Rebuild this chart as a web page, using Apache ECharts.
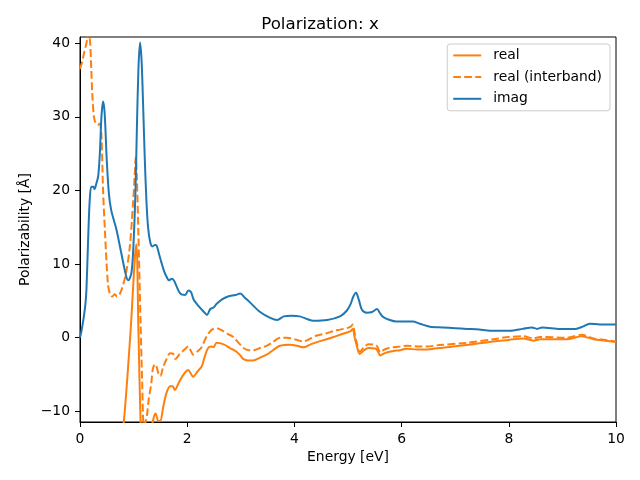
<!DOCTYPE html>
<html>
<head>
<meta charset="utf-8">
<script src="https://cdn.jsdelivr.net/npm/echarts@6/dist/echarts.min.js"></script>
<style>html,body{margin:0;padding:0;background:#fff}#c{width:640px;height:480px}</style>
</head>
<body>
<div id="c"></div>
<script>
const titleText = "Polarization: x";
const xName = "Energy [eV]";
const yName = "Polarizability [Å]";
const seriesNames = ["real", "real (interband)", "imag"];
const xTicks = [0, 2, 4, 6, 8, 10];
const yTicks = [-10, 0, 10, 20, 30, 40];

const realE = [0.3,0.5,0.7,0.82,0.94,1.05,1.09,1.13,1.18,1.25,1.32,1.37,1.41,1.46,1.5,1.55,1.61,1.68,1.73,1.77,1.85,1.95,2.02,2.07,2.11,2.19,2.27,2.33,2.39,2.45,2.49,2.55,2.68,2.8,2.92,2.99,3.05,3.15,3.23,3.36,3.48,3.6,3.73,3.92,4.05,4.17,4.3,4.42,4.6,4.73,4.85,4.98,5.05,5.09,5.12,5.16,5.22,5.3,5.38,5.52,5.56,5.6,5.66,5.72,5.85,5.97,6.09,6.3,6.47,6.7,7.21,7.71,8.0,8.27,8.46,8.58,9.08,9.36,9.58,9.8,10];
const realV = [-90,-36,-18,-11.2,0.5,12.7,1,-11.4,-20,-18,-13,-11,-10.3,-11.3,-11.3,-9.5,-7.6,-6.6,-6.6,-7.1,-6,-4.8,-4.4,-4.9,-5.3,-4.6,-3.9,-2.5,-1.4,-1.2,-1.3,-0.7,-0.9,-1.4,-1.9,-2.4,-2.9,-3.1,-3.1,-2.7,-2.3,-1.7,-1.1,-0.95,-1.1,-1.3,-0.9,-0.6,-0.2,0.1,0.4,0.7,0.9,1.2,0.2,-1.0,-2.2,-1.7,-1.4,-1.5,-1.9,-2.4,-2.2,-2.0,-1.8,-1.7,-1.5,-1.6,-1.6,-1.4,-1.0,-0.5,-0.3,-0.1,-0.4,-0.2,-0.2,0.2,-0.2,-0.4,-0.6];

const interE = [0,0.04,0.08,0.12,0.16,0.19,0.21,0.23,0.26,0.29,0.33,0.37,0.4,0.43,0.47,0.52,0.56,0.6,0.65,0.69,0.73,0.78,0.86,0.93,0.99,1.02,1.04,1.06,1.09,1.13,1.16,1.19,1.22,1.25,1.28,1.33,1.36,1.4,1.43,1.47,1.5,1.55,1.61,1.68,1.74,1.78,1.85,1.95,2.02,2.07,2.11,2.2,2.27,2.33,2.39,2.46,2.55,2.67,2.76,2.86,2.96,3.05,3.15,3.23,3.36,3.48,3.6,3.73,3.86,4.0,4.17,4.3,4.42,4.6,4.73,4.85,4.98,5.05,5.09,5.12,5.16,5.22,5.3,5.38,5.52,5.56,5.6,5.66,5.72,5.85,5.97,6.1,6.34,6.47,6.7,7.21,7.71,8.0,8.27,8.46,8.58,9.08,9.36,9.58,9.8,10];
const interV = [36.5,37.5,38.8,40.0,41.5,40,36.5,33,30,29.2,28.9,29.1,27.5,20.1,13.8,7.4,5.9,5.6,5.9,5.6,5.8,6.6,8.8,12.4,18.3,21.9,24.5,22,13.9,2,-6,-12,-11.5,-10.5,-8.5,-6.2,-4.2,-3.6,-4,-5.0,-5.2,-4.0,-3.0,-2.1,-2.2,-2.9,-2.3,-1.6,-1.2,-1.8,-2.3,-1.8,-1.3,-0.3,0.5,1.1,1.3,0.9,0.5,0.1,-0.7,-1.4,-1.7,-1.7,-1.4,-1.1,-0.6,0.0,0.0,-0.2,-0.5,-0.1,0.3,0.6,0.9,1.1,1.3,1.5,1.8,0.8,-0.6,-1.9,-1.3,-0.9,-1.0,-1.4,-2.0,-1.7,-1.5,-1.3,-1.2,-1.1,-1.2,-1.2,-1.0,-0.7,-0.2,0.1,0.2,-0.1,0.1,0.0,0.4,-0.1,-0.3,-0.5];

const imagE = [0,0.03,0.07,0.1,0.12,0.15,0.18,0.21,0.25,0.27,0.3,0.34,0.37,0.4,0.43,0.46,0.5,0.54,0.58,0.63,0.68,0.77,0.86,0.9,0.96,1.0,1.035,1.06,1.09,1.12,1.15,1.18,1.21,1.24,1.27,1.31,1.35,1.4,1.43,1.47,1.52,1.57,1.62,1.66,1.71,1.75,1.8,1.87,1.96,2.02,2.07,2.12,2.2,2.3,2.37,2.43,2.49,2.55,2.65,2.76,2.9,2.99,3.08,3.17,3.36,3.55,3.68,3.8,3.95,4.1,4.25,4.35,4.61,4.85,4.98,5.05,5.1,5.15,5.2,5.26,5.35,5.45,5.54,5.6,5.66,5.78,5.9,6.03,6.21,6.34,6.53,6.77,7.0,7.22,7.45,7.65,8.02,8.26,8.43,8.53,8.62,8.96,9.24,9.38,9.51,9.7,10];
const imagV = [0,1,2.8,4.5,6.5,13,18.5,20.5,20.5,20.2,20.8,22,25,30,32.1,30.5,24,19.5,17.4,16,14.7,11.5,8.4,7.8,8.8,13,20,28,36.5,40.1,37.5,31,24,18.5,15,13,12.4,12.6,12.5,11.5,10.2,9.0,8.2,7.8,8.0,7.8,7.0,6.0,5.8,6.4,6.2,5.2,4.4,3.6,3.1,3.9,4.1,4.6,5.2,5.6,5.8,6.0,5.4,4.8,3.5,2.7,2.4,2.9,3.0,2.9,2.5,2.3,2.4,2.9,3.7,4.6,5.6,6.1,5.2,3.8,3.4,3.5,3.9,3.3,2.8,2.4,2.2,2.2,2.2,1.9,1.5,1.4,1.3,1.2,1.1,0.95,0.95,1.2,1.4,1.2,1.4,1.2,1.2,1.5,1.9,1.8,1.8];

function zip(a, b) { return a.map((x, i) => [x, b[i]]); }
const fmt = v => (v < 0 ? '\u2212' + (-v) : String(v));
const FONT = 'DejaVu Sans';
const FS = 13.89;

const chart = echarts.init(document.getElementById('c'), null, {renderer: 'canvas'});
chart.setOption({
  animation: false,
  backgroundColor: '#fff',
  title: {
    text: titleText, left: 'center', top: 11,
    textStyle: {fontFamily: FONT, fontSize: 16.67, fontWeight: 'normal', color: '#000'}
  },
  grid: {left: 80, right: 24, top: 37, bottom: 58, show: true, borderColor: '#000', borderWidth: 1, backgroundColor: 'transparent'},
  legend: {
    orient: 'vertical', right: 30, top: 44,
    itemWidth: 28, itemHeight: 14, itemGap: 7.7,
    padding: [4.4, 8, 5, 5],
    backgroundColor: 'rgba(255,255,255,0.8)', borderColor: '#cccccc', borderWidth: 1, borderRadius: 3,
    itemStyle: {opacity: 0},
    textStyle: {fontFamily: FONT, fontSize: FS, color: '#000', padding: [0, 0, 0, 7]},
    data: seriesNames
  },
  xAxis: {
    type: 'value', min: 0, max: 10, interval: 2,
    name: xName, nameLocation: 'middle', nameGap: 28, nameMoveOverlap: false,
    nameTextStyle: {fontFamily: FONT, fontSize: FS, color: '#000'},
    axisLine: {show: true, onZero: false, lineStyle: {color: '#000', width: 1}},
    axisTick: {show: true, length: 5, lineStyle: {color: '#000'}},
    axisLabel: {fontFamily: FONT, fontSize: FS, color: '#000', margin: 10, formatter: fmt},
    splitLine: {show: false}
  },
  yAxis: {
    type: 'value', min: -11.45, max: 40.85,
    name: yName, nameLocation: 'middle', nameGap: 48, nameRotate: 90, nameMoveOverlap: false,
    nameTextStyle: {fontFamily: FONT, fontSize: FS, color: '#000'},
    axisLine: {show: true, onZero: false, lineStyle: {color: '#000', width: 1}},
    axisTick: {show: true, length: 5, lineStyle: {color: '#000'}, customValues: yTicks},
    axisLabel: {fontFamily: FONT, fontSize: FS, color: '#000', margin: 10, formatter: fmt, customValues: yTicks},
    splitLine: {show: false}
  },
  series: [
    {name: seriesNames[0], type: 'line', data: zip(realE, realV), symbol: 'none', smooth: 0.3, clip: true,
     lineStyle: {color: '#ff7f0e', width: 2}, itemStyle: {color: '#ff7f0e'}},
    {name: seriesNames[1], type: 'line', data: zip(interE, interV), symbol: 'none', smooth: 0.3, clip: true,
     lineStyle: {color: '#ff7f0e', width: 2, type: [7.7, 3.3]}, itemStyle: {color: '#ff7f0e'}},
    {name: seriesNames[2], type: 'line', data: zip(imagE, imagV), symbol: 'none', smooth: 0.3, clip: true,
     lineStyle: {color: '#1f77b4', width: 2}, itemStyle: {color: '#1f77b4'}}
  ]
});
</script>
</body>
</html>
